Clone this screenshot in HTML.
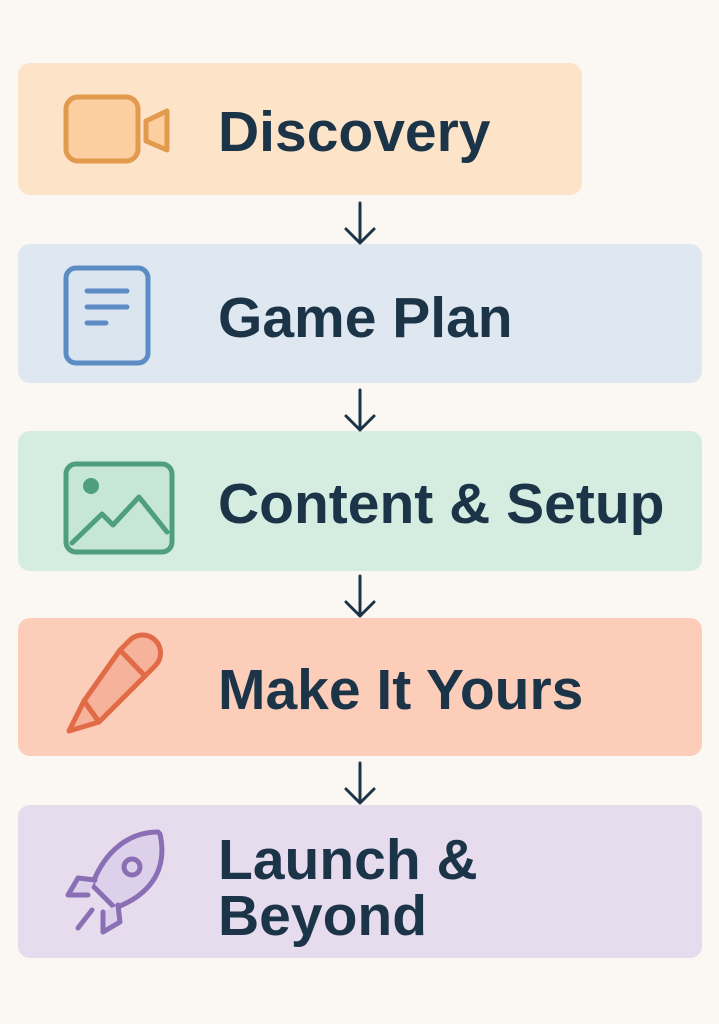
<!DOCTYPE html>
<html><head><meta charset="utf-8"><style>
body{margin:0;width:719px;height:1024px;background:#fbf7f2;position:relative;overflow:hidden;font-family:"Liberation Sans",sans-serif}
.b{position:absolute;left:18px;border-radius:12px}
.t{position:absolute;left:218px;font-weight:bold;font-size:57px;color:#1b3448;line-height:1;white-space:nowrap}
svg{position:absolute}
</style></head><body>
<div class="b" style="top:63px;width:564px;height:132px;background:#fde4c8"></div>
<div class="b" style="top:244px;width:684px;height:139px;background:#dfe7f0"></div>
<div class="b" style="top:431px;width:684px;height:140px;background:#d5ede0"></div>
<div class="b" style="top:618px;width:684px;height:138px;background:#fccdb9"></div>
<div class="b" style="top:805px;width:684px;height:153px;background:#e6dcee"></div>

<div class="t" style="top:104px">Discovery</div>
<div class="t" style="top:290px">Game Plan</div>
<div class="t" style="top:476px">Content &amp; Setup</div>
<div class="t" style="top:662px">Make It Yours</div>
<div class="t" style="top:832px;line-height:56px">Launch &amp;<br>Beyond</div>

<svg width="719" height="1024" style="left:0;top:0" fill="none" stroke-linecap="round" stroke-linejoin="round">
<g stroke="#1b3448" stroke-width="3">
<path d="M360 203V243M346 229L360 243L374 229"/>
<path d="M360 390V430M346 416L360 430L374 416"/>
<path d="M360 576V616M346 602L360 616L374 602"/>
<path d="M360 763V803M346 789L360 803L374 789"/>
</g>
<!-- camera -->
<g stroke="#e29a4e" stroke-width="5" fill="#fbcf9f">
<rect x="66" y="97" width="72" height="64" rx="12"/>
<path d="M146 121L167 111V150L146 141Z"/>
</g>
<!-- doc -->
<g stroke="#5b8cc4" stroke-width="5">
<rect x="66" y="268" width="82" height="95" rx="10" fill="#dbe5f0"/>
<path d="M87 291H127M87 307H127M87 323H106"/>
</g>
<!-- image -->
<g stroke="#4f9f7e" stroke-width="5">
<rect x="66" y="464" width="106" height="88" rx="10" fill="#c6e6d6"/>
<path d="M72 543L102 514L113 525L139 497L167 532" fill="none"/>
<circle cx="91" cy="486" r="8" fill="#4f9f7e" stroke="none"/>
</g>
<!-- pencil -->
<g stroke="#e16b47" stroke-width="5" fill="#f6b29a">
<path d="M120 650L145 676L99 722L84 701Z"/>
<path d="M120 650L130 640A12 12 0 0 1 155 666L145 676Z"/>
<path d="M84 701L99 722L69 731Z"/>
</g>
<!-- rocket -->
<g stroke="#8a6fb5" stroke-width="5" fill="#ddd0ea">
<path d="M158 832C130 832 105 850 92 885L115 908C150 895 168 870 160 834Z"/>
<circle cx="132" cy="867" r="8"/>
<path d="M95 880L78 878L68 895L88 895"/>
<path d="M118 905L120 922L103 932L103 912"/>
<path d="M92 910L78 928" fill="none"/>
</g>
</svg>
</body></html>
